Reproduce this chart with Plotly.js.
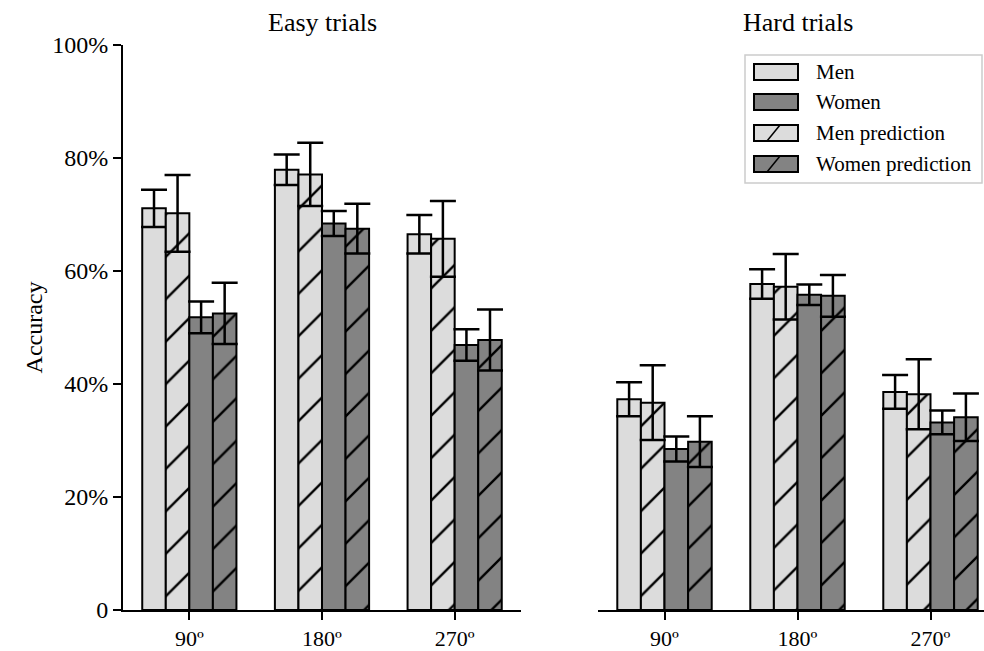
<!DOCTYPE html>
<html>
<head>
<meta charset="utf-8">
<script src="https://cdn.plot.ly/plotly-3.0.1.min.js"></script>
<style>html,body{margin:0;padding:0;background:#fff;}#chart{width:984px;height:651px;}</style>
</head>
<body>
<div id="chart"></div>
<script>
const categories = ["90º", "180º", "270º"];
const legendNames = ["Men", "Women", "Men prediction", "Women prediction"];

// Easy trials (accuracy %)
const easyMen = [71.1, 77.9, 66.5];
const easyMenErr = [3.3, 2.7, 3.4];
const easyMenPred = [70.2, 77.1, 65.7];
const easyMenPredErr = [6.8, 5.6, 6.7];
const easyWomen = [51.8, 68.4, 46.9];
const easyWomenErr = [2.8, 2.2, 2.8];
const easyWomenPred = [52.5, 67.5, 47.8];
const easyWomenPredErr = [5.4, 4.4, 5.4];

// Hard trials (accuracy %)
const hardMen = [37.3, 57.7, 38.6];
const hardMenErr = [3.0, 2.6, 3.0];
const hardMenPred = [36.7, 57.2, 38.2];
const hardMenPredErr = [6.6, 5.8, 6.2];
const hardWomen = [28.5, 55.8, 33.2];
const hardWomenErr = [2.2, 1.8, 2.1];
const hardWomenPred = [29.8, 55.6, 34.1];
const hardWomenPredErr = [4.5, 3.7, 4.2];

const yTickVals = [0, 20, 40, 60, 80, 100];
const yTickText = ["0", "20%", "40%", "60%", "80%", "100%"];

const LIGHT = "#dcdcdc";
const DARK = "#838383";
const FONT = "Times New Roman";

function bar(name, y, err, color, hatched, xa, ya) {
  const marker = {color: color, line: {color: "#000", width: 2}};
  if (hatched) {
    marker.pattern = {shape: "/", fgcolor: "#000", bgcolor: color, size: 30, solidity: 0.08};
  }
  return {
    type: "bar", name: name, x: categories, y: y,
    xaxis: xa, yaxis: ya, showlegend: false,
    marker: marker,
    error_y: {type: "data", array: err, visible: true, color: "#000", thickness: 2.5, width: 13},
    hoverinfo: "skip"
  };
}

const traces = [
  bar("Men", easyMen, easyMenErr, LIGHT, false, "x", "y"),
  bar("Men prediction", easyMenPred, easyMenPredErr, LIGHT, true, "x", "y"),
  bar("Women", easyWomen, easyWomenErr, DARK, false, "x", "y"),
  bar("Women prediction", easyWomenPred, easyWomenPredErr, DARK, true, "x", "y"),
  bar("Men", hardMen, hardMenErr, LIGHT, false, "x2", "y2"),
  bar("Men prediction", hardMenPred, hardMenPredErr, LIGHT, true, "x2", "y2"),
  bar("Women", hardWomen, hardWomenErr, DARK, false, "x2", "y2"),
  bar("Women prediction", hardWomenPred, hardWomenPredErr, DARK, true, "x2", "y2")
];

const xCommon = {
  type: "category", showline: true, linecolor: "#000", linewidth: 2,
  ticks: "outside", ticklen: 8, tickwidth: 2, tickcolor: "#000",
  showgrid: false, zeroline: false,
  tickfont: {family: FONT, size: 22, color: "#000"}
};

// Custom legend, positioned in pixels of the figure (plot area: x 123..984, y 45..610)
const W = 984, H = 651, L = 123, T = 45, PW = 861, PH = 565;
const px = (x) => (x - L) / PW;
const py = (y) => (T + PH - y) / PH;
const legendFill = [LIGHT, DARK, LIGHT, DARK];
const legendHatch = [false, false, true, true];
const shapes = [
  {type: "rect", xref: "paper", yref: "paper", x0: px(745), x1: px(982), y0: py(183), y1: py(55),
   line: {color: "#cccccc", width: 1.5}, fillcolor: "#fff", layer: "above"}
];
const annotations = [];
const rowY = [72, 102, 133, 164];
legendNames.forEach((n, i) => {
  const yc = rowY[i];
  shapes.push({type: "rect", xref: "paper", yref: "paper", x0: px(754), x1: px(798),
    y0: py(yc + 8), y1: py(yc - 8), fillcolor: legendFill[i], line: {color: "#000", width: 2}, layer: "above"});
  if (legendHatch[i]) {
    shapes.push({type: "line", xref: "paper", yref: "paper", x0: px(767), x1: px(780),
      y0: py(yc + 8), y1: py(yc - 8), line: {color: "#000", width: 1.5}, layer: "above"});
  }
  annotations.push({text: n, xref: "paper", yref: "paper", x: px(814), y: py(yc),
    xanchor: "left", yanchor: "middle", showarrow: false,
    font: {family: FONT, size: 21, color: "#000"}});
});
annotations.push(
  {text: "Easy trials", xref: "x", yref: "paper", x: 1, y: py(22),
   xanchor: "center", yanchor: "middle", showarrow: false,
   font: {family: FONT, size: 26, color: "#000"}},
  {text: "Hard trials", xref: "x2", yref: "paper", x: 1, y: py(22),
   xanchor: "center", yanchor: "middle", showarrow: false,
   font: {family: FONT, size: 26, color: "#000"}}
);

const layout = {
  width: W, height: H,
  margin: {l: L, r: 0, t: T, b: H - T - PH},
  paper_bgcolor: "#fff", plot_bgcolor: "rgba(0,0,0,0)",
  font: {family: FONT, color: "#000"},
  barmode: "group", bargap: 0.29, bargroupgap: 0,
  showlegend: false,
  xaxis: Object.assign({}, xCommon, {domain: [0, 398 / PW], range: [-0.5, 2.5]}),
  xaxis2: Object.assign({}, xCommon, {domain: [(598 - L) / PW, 1], range: [-0.5, -0.5 + (984 - 598) / 133], anchor: "y2"}),
  yaxis: {
    range: [0, 100], tickvals: yTickVals, ticktext: yTickText,
    showline: true, linecolor: "#000", linewidth: 2,
    ticks: "outside", ticklen: 8, tickwidth: 2, tickcolor: "#000",
    showgrid: false, zeroline: false,
    tickfont: {family: FONT, size: 24, color: "#000"},
    title: {text: "Accuracy", font: {family: FONT, size: 24, color: "#000"}, standoff: 3}
  },
  yaxis2: {
    range: [0, 100], anchor: "x2", matches: "y",
    showline: false, showticklabels: false, ticks: "", showgrid: false, zeroline: false
  },
  shapes: shapes,
  annotations: annotations
};

Plotly.newPlot("chart", traces, layout, {staticPlot: true, displayModeBar: false});
</script>
</body>
</html>
